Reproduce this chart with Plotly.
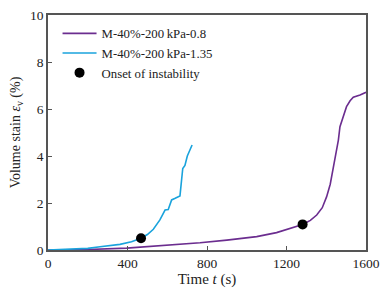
import plotly.graph_objects as go

t_blue = [0, 100, 200, 262, 362, 420, 468, 500, 530, 563, 589, 605, 622, 640, 656, 664, 678, 689, 701, 712, 725]
v_blue = [0, 0.02, 0.07, 0.14, 0.24, 0.35, 0.5, 0.66, 0.88, 1.28, 1.7, 1.72, 2.13, 2.2, 2.27, 2.3, 3.47, 3.6, 4.0, 4.2, 4.47]

t_purple = [0, 100, 200, 396, 600, 765, 900, 1050, 1150, 1201, 1281, 1320, 1352, 1380, 1402, 1420, 1436, 1461, 1469, 1486, 1502, 1520, 1536, 1570, 1600]
v_purple = [0, 0.0, 0.02, 0.08, 0.19, 0.31, 0.42, 0.57, 0.74, 0.88, 1.09, 1.26, 1.49, 1.8, 2.27, 2.8, 3.55, 4.68, 5.25, 5.67, 6.1, 6.35, 6.5, 6.6, 6.71]

onset_t = [468, 1281]
onset_v = [0.5, 1.09]

font = "Liberation Serif"
fig = go.Figure()
fig.add_trace(go.Scatter(x=t_purple, y=v_purple, mode="lines", name="M-40%-200\u2009kPa-0.8",
                         line=dict(color="#6b2d8f", width=1.6)))
fig.add_trace(go.Scatter(x=t_blue, y=v_blue, mode="lines", name="M-40%-200\u2009kPa-1.35",
                         line=dict(color="#1aa3dc", width=1.6)))
fig.add_trace(go.Scatter(x=onset_t, y=onset_v, mode="markers", name="Onset of instability",
                         marker=dict(color="black", size=10)))

axis_common = dict(showgrid=False, zeroline=False, showline=True, linecolor="#555555", linewidth=1.5,
                   mirror=True, ticks="inside", ticklen=4, tickcolor="#555555", automargin=False,
                   tickfont=dict(family=font, size=13.5, color="#222222"))
fig.update_layout(
    width=385, height=292,
    margin=dict(l=48, r=19, t=15, b=42),
    paper_bgcolor="white", plot_bgcolor="white",
    font=dict(family=font, size=13.5, color="#222222"),
    xaxis=dict(range=[0, 1600], tickvals=[0, 400, 800, 1200, 1600],
               title=dict(text="Time <i>t</i> (s)", font=dict(family=font, size=15), standoff=0),
               **axis_common),
    yaxis=dict(range=[0, 10], tickvals=[0, 2, 4, 6, 8, 10],
               title=dict(text="Volume stain <i>ε</i><sub>v</sub> (%)", font=dict(family=font, size=14), standoff=6),
               **axis_common),
    legend=dict(x=0.03, y=0.985, xanchor="left", yanchor="top", bgcolor="rgba(0,0,0,0)",
                font=dict(family=font, size=12.8), tracegroupgap=0, itemwidth=34),
    showlegend=True,
)
fig.write_html("out.html", config={"displayModeBar": False},
               post_script="document.body.style.margin='0';document.body.style.overflow='hidden';window.scrollTo(0,0);")
